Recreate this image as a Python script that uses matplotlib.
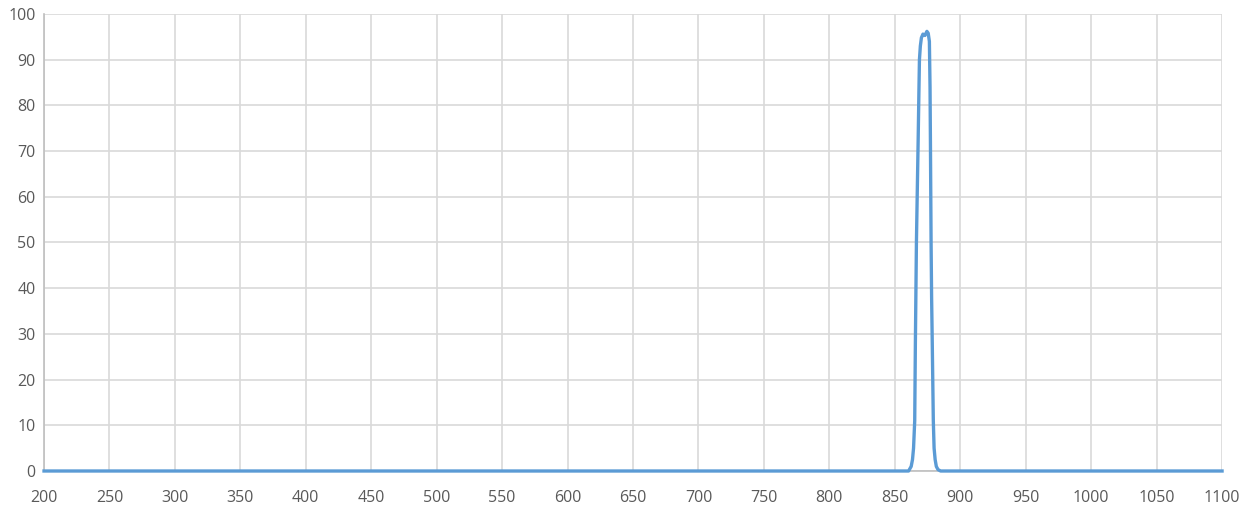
import matplotlib.pyplot as plt

# transmittance curve (wavelength nm, %)
wavelength = [200, 855, 860.5, 862.5, 863.5, 864.3, 865.2, 865.7, 866.5, 867.2, 867.8,
              868.4, 868.8, 869.5, 870.3, 871.5, 873, 874.5, 875.5, 876.4, 876.9,
              877.2, 877.7, 878.1, 878.6, 879.4, 880, 880.8, 881.7, 883, 885, 890, 1100]
transmittance = [0, 0, 0, 1, 2.5, 5, 11, 28, 50, 62, 72,
                 83, 90, 93, 94.8, 95.6, 95.3, 96.2, 95.8, 94, 84,
                 72, 50, 38, 28, 11, 5, 2.5, 1, 0.3, 0, 0, 0]

x_ticks = list(range(200, 1101, 50))
y_ticks = list(range(0, 101, 10))

plt.rcParams['font.family'] = ['Open Sans', 'DejaVu Sans']

fig = plt.figure(figsize=(12.47, 5.07), dpi=100)
ax = fig.add_axes([0.0353, 0.071, 0.9447, 0.9014])

ax.plot(wavelength, transmittance, color='#5B9BD5', linewidth=2.4,
        clip_on=False, zorder=3, solid_joinstyle='round')

ax.set_xlim(200, 1100)
ax.set_ylim(0, 100)
ax.set_xticks(x_ticks)
ax.set_yticks(y_ticks)
ax.grid(True, color='#D9D9D9', linewidth=1.2)
ax.set_axisbelow(True)

for s in ['top', 'right']:
    ax.spines[s].set_visible(False)
for s in ['left', 'bottom']:
    ax.spines[s].set_color('#BFBFBF')
    ax.spines[s].set_linewidth(1.2)

ax.tick_params(length=0, labelsize=11.5, colors='#595959', pad=6)
ax.tick_params(axis='x', pad=14)

fig.savefig('out.png', dpi=100)
